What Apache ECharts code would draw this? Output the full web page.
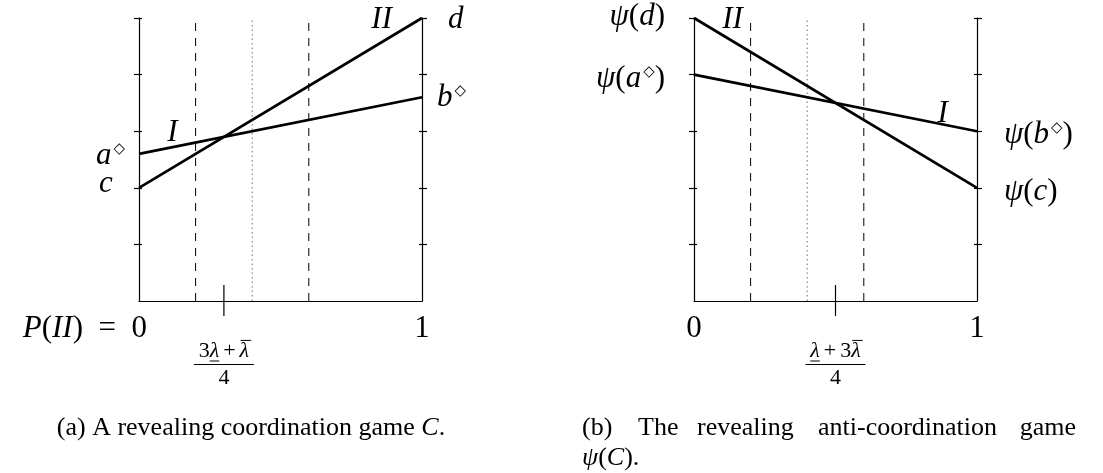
<!DOCTYPE html>
<html>
<head>
<meta charset="utf-8">
<script src="https://cdn.jsdelivr.net/npm/echarts/dist/echarts.min.js"></script>
<style>
  html, body { margin: 0; padding: 0; background: #ffffff; }
  #chart { width: 1103px; height: 473px; }
</style>
</head>
<body>
<div id="chart"></div>
<script>
// Probability of action II on the horizontal axis (endpoints)
const probII = [0, 1];
// Coordination game C: payoff lines of I and II
const payoffI_C = [2.6, 3.6];
const payoffII_C = [2, 5];
// Anti-coordination game psi(C): payoff lines of I and II
const payoffI_psi = [4, 3];
const payoffII_psi = [5, 2];
// Vertical guide positions and their heights
const dashedGuides = [0.2, 0.6];
const dottedGuides = [0.4];
const dashedTop = 4.93;
const dottedTop = 4.96;
// Thresholds marked under each horizontal axis
const thresholdC = 0.3;
const thresholdPsi = 0.5;
// Tick values on the vertical axes
const yTicks = [1, 2, 3, 4, 5];

const MATH = "'Liberation Serif', 'DejaVu Serif', serif";
const SYM = "'DejaVu Sans', sans-serif";
const INK = '#000000';
const MS = 31;   // size of the math labels
const CS = 26;   // size of the captions
const FS = 22;   // size of the fraction labels

const chart = echarts.init(document.getElementById('chart'), null, { renderer: 'canvas' });

const grids = [
  { left: 139, top: 18, width: 283, height: 283 },
  { left: 694, top: 18, width: 283, height: 283 }
];

function xAxisFor(g) {
  return {
    type: 'value', gridIndex: g, min: 0, max: 1, position: 'bottom',
    axisLine: { show: true, onZero: false, lineStyle: { color: INK, width: 1.2 } },
    axisTick: { show: false }, axisLabel: { show: false }, splitLine: { show: false }
  };
}
function yAxisFor(g, side, inside, withLine) {
  return {
    type: 'value', gridIndex: g, min: 0, max: 5, position: side,
    axisLine: { show: withLine, onZero: false, lineStyle: { color: INK, width: 1.2 } },
    axisTick: { show: true, inside: inside, length: inside ? 3 : 5, customValues: yTicks,
                lineStyle: { color: INK, width: 1.2 } },
    axisLabel: { show: false }, splitLine: { show: false }
  };
}

const xAxes = [xAxisFor(0), xAxisFor(1)];
const yAxes = [];
[0, 1].forEach(g => {
  yAxes.push(yAxisFor(g, 'left', false, true));
  yAxes.push(yAxisFor(g, 'left', true, false));
  yAxes.push(yAxisFor(g, 'right', false, true));
  yAxes.push(yAxisFor(g, 'right', true, false));
});

function payoffLine(g, ys) {
  return {
    type: 'line', xAxisIndex: g, yAxisIndex: g * 4, silent: true, symbol: 'none',
    data: probII.map((x, i) => [x, ys[i]]),
    lineStyle: { color: INK, width: 2.7 }, z: 5
  };
}
function guideLine(g, x, top, dotted) {
  return {
    type: 'line', xAxisIndex: g, yAxisIndex: g * 4, silent: true, symbol: 'none',
    data: [[x, 0], [x, top]],
    lineStyle: dotted ? { color: '#6e6e6e', width: 1, type: [1.5, 3] }
                      : { color: INK, width: 1, type: [8, 7] },
    z: 2
  };
}

const series = [];
[0, 1].forEach(g => {
  dashedGuides.forEach(x => series.push(guideLine(g, x, dashedTop, false)));
  dottedGuides.forEach(x => series.push(guideLine(g, x, dottedTop, true)));
});
series.push(payoffLine(0, payoffI_C));
series.push(payoffLine(0, payoffII_C));
series.push(payoffLine(1, payoffI_psi));
series.push(payoffLine(1, payoffII_psi));

chart.setOption({
  animation: false,
  backgroundColor: '#ffffff',
  grid: grids,
  xAxis: xAxes,
  yAxis: yAxes,
  series: series
});

// ---- text and threshold marks, anchored through the axes ----
const px = (g, x, y) => chart.convertToPixel({ gridIndex: g }, [x, y]);
const mctx = document.createElement('canvas').getContext('2d');
function textWidth(t, size, italicFace) {
  mctx.font = (italicFace ? 'italic ' : '') + size + 'px ' + MATH;
  return mctx.measureText(t).width;
}

// text whose baseline sits at `base`
function txt(content, x, base, align, size, extra) {
  const style = Object.assign({
    text: content, x: x, y: base - 0.3 * size, align: align, verticalAlign: 'middle',
    fontFamily: MATH, fontSize: size, fontStyle: 'normal', fill: INK
  }, extra || {});
  return { type: 'text', silent: true, style: style, z: 10 };
}
function richTxt(content, x, base, align, size) {
  return { type: 'text', silent: true, z: 10, style: {
    text: content, x: x, y: base - 0.3 * size, align: align, verticalAlign: 'middle',
    rich: {
      i: { fontFamily: MATH, fontStyle: 'italic', fontSize: size, fill: INK },
      r: { fontFamily: MATH, fontStyle: 'normal', fontSize: size, fill: INK },
      s: { fontFamily: SYM, fontSize: Math.round(size * 0.48), fill: INK, verticalAlign: 'top', padding: [1, 0, 0, 2] }
    } } };
}
const italic = { fontStyle: 'italic' };

// fraction label under a threshold: pieces may carry an under- or over-bar
function fraction(g, xVal, pieces) {
  const p = px(g, xVal, 0);
  const out = [];
  const widths = pieces.map(pc => textWidth(pc.t, FS, pc.it) + (pc.pad || 0) * 2);
  const total = widths.reduce((a, b) => a + b, 0);
  let x = p[0] - total / 2;
  const base = 358;
  pieces.forEach((pc, k) => {
    const w = widths[k];
    out.push(txt(pc.t, x + w / 2, base, 'center', FS, pc.it ? italic : null));
    if (pc.bar === 'under') {
      out.push({ type: 'line', silent: true, z: 10,
        shape: { x1: x, y1: base + 3, x2: x + w, y2: base + 3 },
        style: { stroke: INK, lineWidth: 1 } });
    } else if (pc.bar === 'over') {
      out.push({ type: 'line', silent: true, z: 10,
        shape: { x1: x + 1, y1: base - FS * 0.8, x2: x + w + 2, y2: base - FS * 0.8 },
        style: { stroke: INK, lineWidth: 1 } });
    }
    x += w;
  });
  const half = Math.max(total / 2, 30);
  out.push({ type: 'line', silent: true, z: 10,
    shape: { x1: p[0] - half, y1: 364.5, x2: p[0] + half, y2: 364.5 },
    style: { stroke: INK, lineWidth: 1 } });
  out.push(txt('4', p[0], 385, 'center', FS));
  // threshold mark crossing the axis
  out.push({ type: 'line', silent: true, z: 10,
    shape: { x1: p[0], y1: p[1] - 16, x2: p[0], y2: p[1] + 15 },
    style: { stroke: INK, lineWidth: 1.2 } });
  return out;
}

const lam = (bar) => ({ t: 'λ', it: true, bar: bar });
const plus = { t: '+', pad: 4 };

const a0 = px(0, 0, 0), a1 = px(0, 1, 0);
const b0 = px(1, 0, 0), b1 = px(1, 1, 0);
const aD = px(0, 1, payoffII_C[1]);

const graphic = [
  // panel (a)
  txt('II', aD[0] - 30, 29, 'right', MS, italic),
  txt('d', aD[0] + 26, 29, 'left', MS, italic),
  richTxt('{i|b}{s|◇}', aD[0] + 15, 107, 'left', MS),
  richTxt('{i|a}{s|◇}', a0[0] - 43, 165, 'left', MS),
  txt('c', a0[0] - 40, 193, 'left', MS, italic),
  txt('I', px(0, 0.1, 0)[0], 142, 'left', MS, italic),
  richTxt('{i|P}{r|(}{i|II}{r|)\u2002=\u20020}', a0[0] + 8, 338, 'right', MS),
  txt('1', a1[0], 338, 'center', MS),
  ...fraction(0, thresholdC, [{ t: '3' }, lam('under'), plus, lam('over')]),
  // panel (b)
  richTxt('{i|ψ}{r|(}{i|d}{r|)}', b0[0] - 29, 26, 'right', MS),
  richTxt('{i|ψ}{r|(}{i|a}{s|◇}{r|)}', b0[0] - 29, 88, 'right', MS),
  richTxt('{i|ψ}{r|(}{i|b}{s|◇}{r|)}', b1[0] + 27, 144, 'left', MS),
  richTxt('{i|ψ}{r|(}{i|c}{r|)}', b1[0] + 27, 201, 'left', MS),
  txt('II', px(1, 0.1, 0)[0], 29, 'left', MS, italic),
  txt('I', px(1, 0.86, 0)[0], 123, 'left', MS, italic),
  txt('0', b0[0], 338, 'center', MS),
  txt('1', b1[0], 338, 'center', MS),
  ...fraction(1, thresholdPsi, [lam('under'), plus, { t: '3' }, lam('over')]),
  // captions
  richTxt('{r|(a) A revealing coordination game }{i|C}{r|.}', 251, 436, 'center', CS),
  txt('(b)', 582, 436, 'left', CS),
  txt('The', 638, 436, 'left', CS),
  txt('revealing', 697, 436, 'left', CS),
  txt('anti-coordination', 818, 436, 'left', CS),
  txt('game', 1076, 436, 'right', CS),
  richTxt('{i|ψ}{r|(}{i|C}{r|).}', 582, 466, 'left', CS)
];

chart.setOption({ graphic: graphic });
</script>
</body>
</html>
